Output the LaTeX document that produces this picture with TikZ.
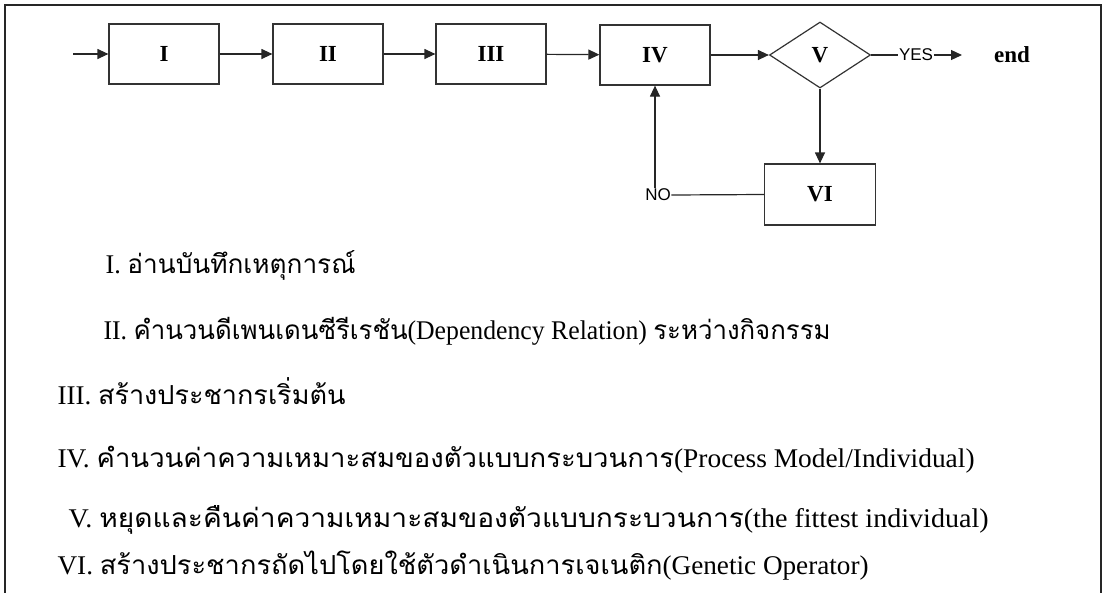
\documentclass[tikz,border=0pt]{standalone}
\usepackage{fontspec}
\usepackage{graphicx}
\setmainfont{Liberation Serif}
\newfontfamily\listlat[FakeStretch=0.9]{Liberation Serif}
\newfontfamily\thaifont[Script=Thai,Scale=0.97,FakeStretch=0.93]{Loma}
\newfontfamily\labsans{Liberation Sans}
\usetikzlibrary{arrows.meta,shapes.geometric}
\newcommand\fitto[2]{\resizebox{#1}{\height}{#2}}
\newcommand\tth[1]{{\thaifont #1}}
\begin{document}
\begin{tikzpicture}[x=1pt,y=-1pt,
  line width=1.2pt,
  stepbox/.style={draw=black!80,minimum width=110pt,minimum height=60pt,inner sep=0pt,
    font=\fontsize{23}{23}\selectfont\bfseries},
  decide/.style={draw=black!80,diamond,minimum width=101pt,minimum height=66pt,inner sep=0pt,
    font=\fontsize{23}{23}\selectfont\bfseries},
  flow/.style={draw=black!85,-{Triangle[length=11pt,width=10pt]}},
  plain/.style={draw=black!85},
  sidelabel/.style={inner sep=0pt,font=\labsans\fontsize{17}{17}\selectfont},
  listline/.style={anchor=base west,inner sep=0pt,font=\listlat\fontsize{27}{27}\selectfont}]
\useasboundingbox (0,0) rectangle (1106,592);
% frame (bottom edge falls outside the picture)
\draw[line width=2pt,black!85] (5,600) -- (5,5) -- (1101,5) -- (1101,600);
% flowchart
\coordinate (in) at (73,54);
\node[stepbox] (I) at (164,54) {I};
\node[stepbox] (II) at (328,54) {II};
\node[stepbox] (III) at (491,54) {III};
\node[stepbox] (IV) at (655,55) {IV};
\node[decide] (V) at (820,55) {V};
\node[sidelabel] (yes) at (916,55) {YES};
\coordinate (yesend) at (962,55);
\node[inner sep=0pt,font=\fontsize{23}{23}\selectfont\bfseries] (end) at (1012,55) {end};
\node[stepbox,minimum width=111pt,minimum height=61pt] (VI) at (820,194.5) {VI};
\node[sidelabel] (no) at (658,195) {NO};
\draw[flow] (in) -- (I);
\draw[flow] (I) -- (II);
\draw[flow] (II) -- (III);
\draw[flow] (III) -- (IV);
\draw[flow] (IV) -- (V);
\draw[plain] (V.east) -- (yes.west);
\draw[flow] (yes.east) -- (yesend);
\draw[flow] (V.south) -- (VI.north);
\draw[plain] (VI.west) -- (no.east);
\draw[flow] (no.north -| IV.south) -- (IV.south);
% list
\node[listline] (l1) at (105,273) {\fitto{250pt}{I. \tth{อ่านบันทึกเหตุการณ์}}};
\node[listline] (l2) at (103,339) {\fitto{727pt}{II. \tth{คำนวนดีเพนเดนซีรีเรชัน}(Dependency Relation) \tth{ระหว่างกิจกรรม}}};
\node[listline] (l3) at (57,404) {\fitto{288pt}{III. \tth{สร้างประชากรเริ่มต้น}}};
\node[listline] (l4) at (57,467) {\fitto{917pt}{IV. \tth{คำนวนค่าความเหมาะสมของตัวแบบกระบวนการ}(Process Model/Individual)}};
\node[listline] (l5) at (68,527) {\fitto{920pt}{V. \tth{หยุดและคืนค่าความเหมาะสมของตัวแบบกระบวนการ}(the fittest individual)}};
\node[listline] (l6) at (57,574) {\fitto{811pt}{VI. \tth{สร้างประชากรถัดไปโดยใช้ตัวดำเนินการเจเนติก}(Genetic Operator)}};
\end{tikzpicture}
\end{document}
